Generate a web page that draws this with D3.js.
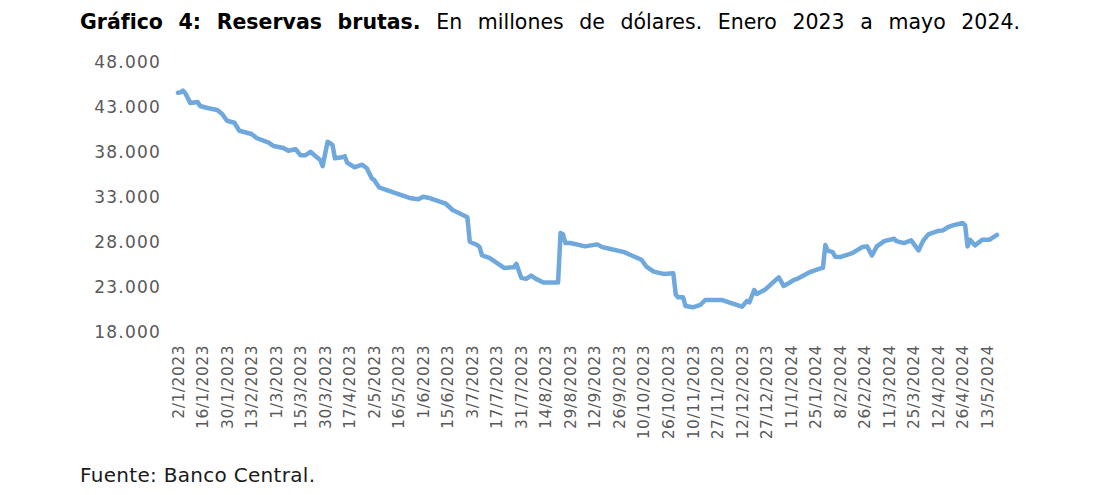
<!doctype html>
<html lang="es">
  <head>
    <meta charset="UTF-8" />
    <title>Gráfico 4: Reservas brutas</title>
    <script src="https://unpkg.com/d3@7.9.0/dist/d3.min.js"></script>
    <style>
      body {
        margin: 0;
        background: #fff;
        overflow: hidden;
      }
      svg {
        font-family: 'DejaVu Sans', sans-serif;
      }
      .title {
        font-size: 20.5px;
        fill: #000;
      }
      .title .bold {
        font-weight: bold;
      }
      .y-label {
        font-size: 17px;
        letter-spacing: 1.2px;
        fill: #595959;
        text-anchor: end;
      }
      .x-label {
        font-size: 15.5px;
        letter-spacing: 0.5px;
        fill: #595959;
        text-anchor: end;
      }
      .source {
        font-size: 20px;
        letter-spacing: 0.3px;
        fill: #1a1a1a;
      }
      .line {
        fill: none;
        stroke: #6fa8dc;
        stroke-width: 4.5px;
        stroke-linejoin: round;
        stroke-linecap: round;
      }
    </style>
  </head>
  <body>
    <svg width="1099" height="495"></svg>

    <script>
      // etiquetas del eje x (cada 10 días hábiles)
      const tickLabels = [
        '2/1/2023', '16/1/2023', '30/1/2023', '13/2/2023', '1/3/2023',
        '15/3/2023', '30/3/2023', '17/4/2023', '2/5/2023', '16/5/2023',
        '1/6/2023', '15/6/2023', '3/7/2023', '17/7/2023', '31/7/2023',
        '14/8/2023', '29/8/2023', '12/9/2023', '26/9/2023', '10/10/2023',
        '26/10/2023', '10/11/2023', '27/11/2023', '12/12/2023', '27/12/2023',
        '11/1/2024', '25/1/2024', '8/2/2024', '26/2/2024', '11/3/2024',
        '25/3/2024', '12/4/2024', '26/4/2024', '13/5/2024',
      ];
      const tickStep = 10;
      const lastDay = 334;

      // día hábil (desde 2/1/2023) y reservas en millones de dólares
      const dayIndex = [
        0, 1, 2, 3, 5, 8, 9, 12, 16, 18, 20, 23, 25, 30, 32, 37, 39, 43, 45,
        48, 50, 52, 54, 56, 58, 59, 61, 62, 63, 64, 67, 68, 69, 72, 75, 77,
        79, 80, 82, 89, 95, 98, 100, 102, 108, 109, 112, 117, 118, 119, 122,
        123, 124, 127, 133, 137, 138, 140, 142, 144, 146, 149, 152, 155, 156,
        157, 158, 160, 166, 171, 173, 176, 182, 185, 189, 191, 194, 198, 202,
        203, 204, 206, 207, 210, 213, 215, 222, 225, 230, 232, 233, 235, 236,
        239, 240, 243, 245, 247, 249, 251, 253, 258, 262, 263, 264, 265, 267,
        268, 270, 275, 279, 281, 283, 285, 288, 292, 293, 296, 299, 302, 304,
        306, 310, 312, 314, 316, 320, 321, 322, 323, 325, 328, 331, 334,
      ];
      const reserves = [
        44550, 44600, 44780, 44500, 43400, 43520, 43080, 42860, 42630, 42190,
        41440, 41220, 40330, 39970, 39520, 39000, 38630, 38410, 38110, 38270,
        37600, 37600, 38000, 37520, 37080, 36400, 39100, 38950, 38750, 37270,
        37380, 37500, 36780, 36270, 36560, 36160, 35040, 34860, 34040, 33380,
        32820, 32710, 33000, 32890, 32330, 32270, 31520, 30860, 30710, 28000,
        27630, 27400, 26470, 26210, 25090, 25170, 25540, 23980, 23870, 24240,
        23870, 23460, 23460, 23460, 28960, 28820, 27850, 27850, 27480, 27700,
        27400, 27220, 26840, 26470, 25990, 25240, 24680, 24420, 24490, 22100,
        21820, 21820, 20850, 20710, 20970, 21520, 21520, 21220, 20780, 21410,
        21260, 22630, 22190, 22600, 22810, 23560, 24040, 23080, 23380, 23740,
        23930, 24660, 25040, 25090, 27630, 27000, 26840, 26330, 26290, 26730,
        27400, 27480, 26470, 27480, 28070, 28330, 28070, 27850, 28150, 27030,
        28150, 28820, 29190, 29260, 29630, 29820, 30080, 29820, 27480, 28220,
        27590, 28220, 28220, 28750,
      ];
      const yTicks = [18000, 23000, 28000, 33000, 38000, 43000, 48000];

      const titleWords = [
        { text: 'Gráfico', bold: true },
        { text: '4:', bold: true },
        { text: 'Reservas', bold: true },
        { text: 'brutas.', bold: true },
        { text: 'En' },
        { text: 'millones' },
        { text: 'de' },
        { text: 'dólares.' },
        { text: 'Enero' },
        { text: '2023' },
        { text: 'a' },
        { text: 'mayo' },
        { text: '2024.' },
      ];

      const svg = d3.select('svg');

      const plot = { left: 178, right: 997, top: 61.7, bottom: 331.7 };

      const x = d3
        .scaleLinear()
        .domain([0, lastDay])
        .range([plot.left, plot.right]);
      const y = d3
        .scaleLinear()
        .domain([18000, 48000])
        .range([plot.bottom, plot.top]);

      const fmt = (v) => d3.format(',')(v).replace(/,/g, '.');

      // título justificado entre x=80 y x=1020
      const title = svg.append('g').attr('class', 'title');
      const words = title
        .selectAll('text')
        .data(titleWords)
        .join('text')
        .attr('class', (d) => (d.bold ? 'bold' : null))
        .attr('y', 29)
        .text((d) => d.text);
      const widths = [];
      words.each(function () {
        widths.push(this.getComputedTextLength());
      });
      const gap = (1020 - 80 - d3.sum(widths)) / (widths.length - 1);
      let cursor = 80;
      words.attr('x', (d, i) => {
        const pos = cursor;
        cursor += widths[i] + gap;
        return pos;
      });

      // eje y
      svg
        .append('g')
        .selectAll('text')
        .data(yTicks)
        .join('text')
        .attr('class', 'y-label')
        .attr('x', 161)
        .attr('y', (d) => y(d))
        .attr('dy', '0.36em')
        .text(fmt);

      // eje x
      svg
        .append('g')
        .selectAll('text')
        .data(tickLabels)
        .join('text')
        .attr('class', 'x-label')
        .attr(
          'transform',
          (d, i) => `translate(${x(i * tickStep)},345) rotate(-90)`,
        )
        .attr('dy', '0.36em')
        .text((d) => d);

      // línea
      const line = d3
        .line()
        .x((d) => x(d[0]))
        .y((d) => y(d[1]));

      svg
        .append('path')
        .attr('class', 'line')
        .datum(dayIndex.map((d, i) => [d, reserves[i]]))
        .attr('d', line);

      // fuente
      svg
        .append('text')
        .attr('class', 'source')
        .attr('x', 80)
        .attr('y', 482)
        .text('Fuente: Banco Central.');
    </script>
  </body>
</html>
